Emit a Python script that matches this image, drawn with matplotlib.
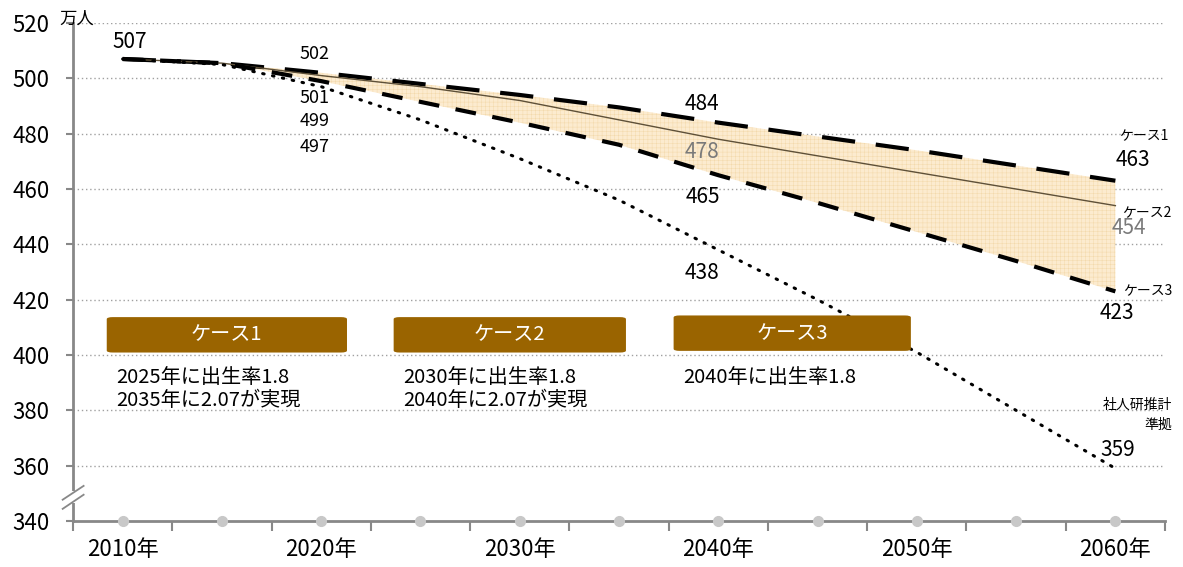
import numpy as np
import matplotlib.pyplot as plt
from matplotlib.patches import FancyBboxPatch, Rectangle

plt.rcParams['font.family'] = ['Noto Sans CJK JP', 'DejaVu Sans']
plt.rcParams['hatch.linewidth'] = 0.3

# data (万人), 5-year steps 2010..2060
years = [2010, 2015, 2020, 2025, 2030, 2035, 2040, 2045, 2050, 2055, 2060]
case1 = [507, 505.5, 502, 498, 494, 489.5, 484, 479, 474, 468.5, 463]
case2 = [507, 505.5, 501, 497, 492, 485, 478, 472, 466, 460, 454]
case3 = [507, 505.5, 499, 491.5, 484, 476, 465, 455, 444.5, 434, 423]
ipss = [507, 505, 497, 485, 471, 456, 438, 420, 401, 380, 359]
base = [340] * len(years)
year_labels = ['2010年', '', '2020年', '', '2030年', '', '2040年', '', '2050年', '', '2060年']

x = np.arange(len(years))

fig = plt.figure(figsize=(11.83, 5.67), dpi=100)
ax = fig.add_axes([0.0617, 0.0811, 0.9231, 0.8783])

ax.fill_between(x, case1, case3, facecolor='#FCEBCF', edgecolor='#F2D6A6',
                hatch='++++', linewidth=0, zorder=1)

ax.plot(x, case1, color='black', lw=3, dashes=(8, 5), zorder=3)
ax.plot(x, case2, color='#5e5038', lw=1, zorder=3)
ax.plot(x, case3, color='black', lw=3, dashes=(5, 4), zorder=3)
ax.plot(x, ipss, color='black', lw=2.2, dashes=(0.5, 2.8),
        dash_capstyle='round', zorder=3)
ax.plot(x, base, 'o', color='#C8C8C8', ms=7, clip_on=False, zorder=4)

ax.set_xlim(-0.5, 10.5)
ax.set_ylim(340, 520)
ax.set_yticks(range(340, 521, 20))
for v in range(360, 521, 20):
    ax.axhline(v, color='#A0A0A0', lw=1, ls=(0, (1, 2)), zorder=0)

ax.set_xticks(x)
ax.set_xticklabels(year_labels, fontsize=16)
ax.set_xticks(np.arange(-0.5, 11, 1), minor=True)
ax.tick_params(axis='x', which='major', length=0, pad=12)
ax.tick_params(axis='x', which='minor', length=7, width=1.5, color='#888888',
               direction='out')
ax.tick_params(axis='y', length=5, width=1.5, color='#888888', labelsize=16,
               pad=12)

for s in ['top', 'right']:
    ax.spines[s].set_visible(False)
for s in ['left', 'bottom']:
    ax.spines[s].set_color('#888888')
    ax.spines[s].set_linewidth(2)

# axis break marks
ax.add_patch(Rectangle((-0.53, 346.5), 0.06, 4.2, facecolor='white',
                       edgecolor='none', clip_on=False, zorder=5))
ax.plot([-0.604, -0.393], [347.7, 352.7], color='#888888', lw=1.3,
        clip_on=False, zorder=6)
ax.plot([-0.604, -0.393], [344.4, 349.5], color='#888888', lw=1.3,
        clip_on=False, zorder=6)

ax.text(-0.64, 521.5, '万人', fontsize=12.5, ha='left', va='center')

# value labels
big = dict(fontsize=15, ha='center', va='center')
small = dict(fontsize=13, ha='center', va='center')
ax.text(0.07, 513.0, '507', **big)
ax.text(1.93, 508.7, '502', **small)
ax.text(1.93, 492.8, '501', **small)
ax.text(1.93, 484.5, '499', **small)
ax.text(1.93, 475.1, '497', **small)
ax.text(5.84, 490.6, '484', **big)
ax.text(5.84, 473.3, '478', color='#7a7a7a', **big)
ax.text(5.84, 457.0, '465', **big)
ax.text(5.84, 429.6, '438', **big)
ax.text(10.18, 470.4, '463', **big)
ax.text(10.14, 446.0, '454', color='#7a7a7a', **big)
ax.text(10.02, 415.2, '423', **big)
ax.text(10.02, 365.7, '359', **big)

side = dict(fontsize=10, ha='right', va='center', clip_on=False)
ax.text(10.54, 479.4, 'ケース1', **side)
ax.text(10.57, 451.8, 'ケース2', **side)
ax.text(10.57, 423.5, 'ケース3', **side)
ax.text(10.57, 382.0, '社人研推計', **side)
ax.text(10.57, 374.7, '準拠', **side)

# case boxes
boxes = [(-0.16, 2.26, 'ケース1'), (2.73, 5.07, 'ケース2'), (5.55, 7.94, 'ケース3')]
notes = [['2025年に出生率1.8', '2035年に2.07が実現'],
         ['2030年に出生率1.8', '2040年に2.07が実現'],
         ['2040年に出生率1.8']]
tops = [413.7, 413.7, 414.3]
for (x0, x1, t), n, top in zip(boxes, notes, tops):
    p = FancyBboxPatch((x0, top - 12.8), x1 - x0, 12.8,
                       boxstyle='round,pad=0,rounding_size=0.06',
                       mutation_aspect=12, facecolor='#9A6400', edgecolor='none',
                       zorder=5)
    ax.add_patch(p)
    ax.text((x0 + x1) / 2, top - 6.4, t, color='white', fontsize=14.5,
            ha='center', va='center', zorder=6)
    for i, line in enumerate(n):
        ax.text(x0 + 0.1, 391.8 - i * 8.3, line, fontsize=14.5, ha='left',
                va='center')

fig.savefig('out.png', dpi=100)
